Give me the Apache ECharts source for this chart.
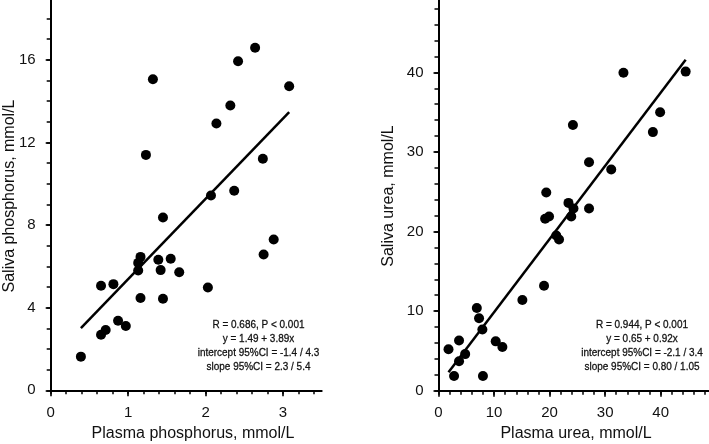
<!DOCTYPE html>
<html><head><meta charset="utf-8">
<script src="https://cdn.jsdelivr.net/npm/echarts@6/dist/echarts.min.js"></script>
<style>html,body{margin:0;padding:0;background:#fff}#c{width:709px;height:444px}</style>
</head><body><div id="c"></div>
<script>
// ---- data ----
const phosPlasma = [1.32,1.23,2.42,2.64,3.08,2.32,2.14,2.74,2.37,2.07,1.45,2.88,2.75,1.16,1.13,1.13,1.39,1.55,1.42,1.66,0.65,0.81,2.03,1.16,1.45,0.87,0.97,0.71,0.65,0.39];
const phosSaliva = [15.06,11.40,15.93,16.59,14.72,13.79,12.92,11.21,9.66,9.43,8.37,7.30,6.58,6.46,6.17,5.80,6.32,6.37,5.82,5.72,5.06,5.14,4.98,4.47,4.43,3.37,3.11,2.92,2.69,1.63];
const ureaPlasma = [33.3,44.5,39.9,38.6,24.2,27.1,31.1,19.4,23.4,24.3,27.1,23.9,19.2,19.9,21.2,21.7,19.0,15.1,6.9,7.3,7.9,10.3,11.5,1.8,3.7,4.8,3.7,2.8,8.0];
const ureaSaliva = [39.96,40.1,35.0,32.5,33.4,28.7,27.8,24.9,23.6,22.9,22.9,21.9,21.6,21.9,19.5,19.0,13.2,11.4,10.4,9.1,7.7,6.2,5.5,5.2,6.3,4.6,3.7,1.85,1.85];
const phosFit = {intercept:1.49, slope:3.89};
const ureaFit = {intercept:0.65, slope:0.92};
const phosXLabels = [0,1,2,3];
const phosXMinor = [0,0.2,0.4,0.6,0.8,1,1.2,1.4,1.6,1.8,2,2.2,2.4,2.6,2.8,3,3.2,3.4];
const phosYLabels = [0,4,8,12,16];
const phosYMinor = [0,1,2,3,4,5,6,7,8,9,10,11,12,13,14,15,16,17,18];
const ureaXLabels = [0,10,20,30,40];
const ureaYLabels = [0,10,20,30,40];
const ureaMinor = [0,2,4,6,8,10,12,14,16,18,20,22,24,26,28,30,32,34,36,38,40,42,44,46,48];
const phosText = ['R = 0.686, P < 0.001','y = 1.49 + 3.89x','intercept 95%CI = -1.4 / 4.3','slope 95%CI = 2.3 / 5.4'];
const ureaText = ['R = 0.944, P < 0.001','y = 0.65 + 0.92x','intercept 95%CI = -2.1 / 3.4','slope 95%CI = 0.80 / 1.05'];
const titles = {phosX:'Plasma phosphorus, mmol/L', phosY:'Saliva phosphorus, mmol/L', ureaX:'Plasma urea, mmol/L', ureaY:'Saliva urea, mmol/L'};

// ---- build ----
const F = '"Liberation Sans Narrow","Arial Narrow","Liberation Sans",Arial,sans-serif';
const K = '#111';
function pairs(xs, ys){ return xs.map((x,i)=>[x, ys[i]]); }
function fitLine(xs, fit){
  const a = Math.min(...xs), b = Math.max(...xs);
  return [[a, fit.intercept + fit.slope*a],[b, fit.intercept + fit.slope*b]];
}
const gL = {left:50.7, top:0, width:271, height:390.3};
const gR = {left:438.5, top:0, width:270.5, height:390.7};
function mainAxis(grid, min, max, labels, tickLen, margin){
  return {type:'value', gridIndex:grid, min:min, max:max,
    axisLine:{show:true, onZero:false, lineStyle:{color:'#000', width:2}},
    axisTick:{show:true, customValues:labels, length:tickLen, lineStyle:{color:'#000', width:1.6}},
    axisLabel:{customValues:labels, margin:margin, fontSize:15, color:K, fontFamily:F},
    splitLine:{show:false}};
}
function minorAxis(grid, min, max, ticks){
  return {type:'value', gridIndex:grid, min:min, max:max,
    axisLine:{show:false, onZero:false},
    axisTick:{show:true, customValues:ticks, length:4, lineStyle:{color:'#000', width:1.5}},
    axisLabel:{show:false}, splitLine:{show:false}};
}
function txt(x, y, s, size, rot){
  return {type:'text', x:x, y:y, rotation:rot||0,
    style:{text:s, align:'center', verticalAlign:'middle', fontSize:size, fontFamily:F, fill:K}};
}
function block(x, y, lines){
  return {type:'text', x:x, y:y, scaleX:0.845,
    style:{text:lines.join('\n'), align:'center', verticalAlign:'top', fontSize:11.8, lineHeight:14, fontFamily:F, fill:K, stroke:K, lineWidth:0.3}};
}
const option = {
  animation:false,
  grid:[gL, gL, gR, gR],
  xAxis:[
    mainAxis(0, 0, 3.5, phosXLabels, 6, 15),
    minorAxis(1, 0, 3.5, phosXMinor),
    mainAxis(2, 0, 48.7, ureaXLabels, 6, 15),
    minorAxis(3, 0, 48.7, ureaMinor)
  ],
  yAxis:[
    mainAxis(0, 0, 18.9, phosYLabels, 5, 15),
    minorAxis(1, 0, 18.9, phosYMinor),
    mainAxis(2, 0, 49.1, ureaYLabels, 5, 15),
    minorAxis(3, 0, 49.1, ureaMinor)
  ],
  series:[
    {type:'scatter', xAxisIndex:0, yAxisIndex:0, data:pairs(phosPlasma, phosSaliva), symbolSize:10, itemStyle:{color:'#000', opacity:1}},
    {type:'line', xAxisIndex:0, yAxisIndex:0, data:fitLine(phosPlasma, phosFit), symbol:'none', lineStyle:{color:'#000', width:2.5}},
    {type:'scatter', xAxisIndex:2, yAxisIndex:2, data:pairs(ureaPlasma, ureaSaliva), symbolSize:10, itemStyle:{color:'#000', opacity:1}},
    {type:'line', xAxisIndex:2, yAxisIndex:2, data:fitLine(ureaPlasma, ureaFit), symbol:'none', lineStyle:{color:'#000', width:2.5}}
  ],
  graphic:[
    txt(193, 434, titles.phosX, 16),
    txt(10, 196, titles.phosY, 16, Math.PI/2),
    txt(576, 434, titles.ureaX, 16),
    txt(389, 196, titles.ureaY, 16, Math.PI/2),
    block(258.5, 318, phosText),
    block(642, 318, ureaText)
  ]
};
const chart = echarts.init(document.getElementById('c'), null, {renderer:'canvas'});
chart.setOption(option);
</script></body></html>
